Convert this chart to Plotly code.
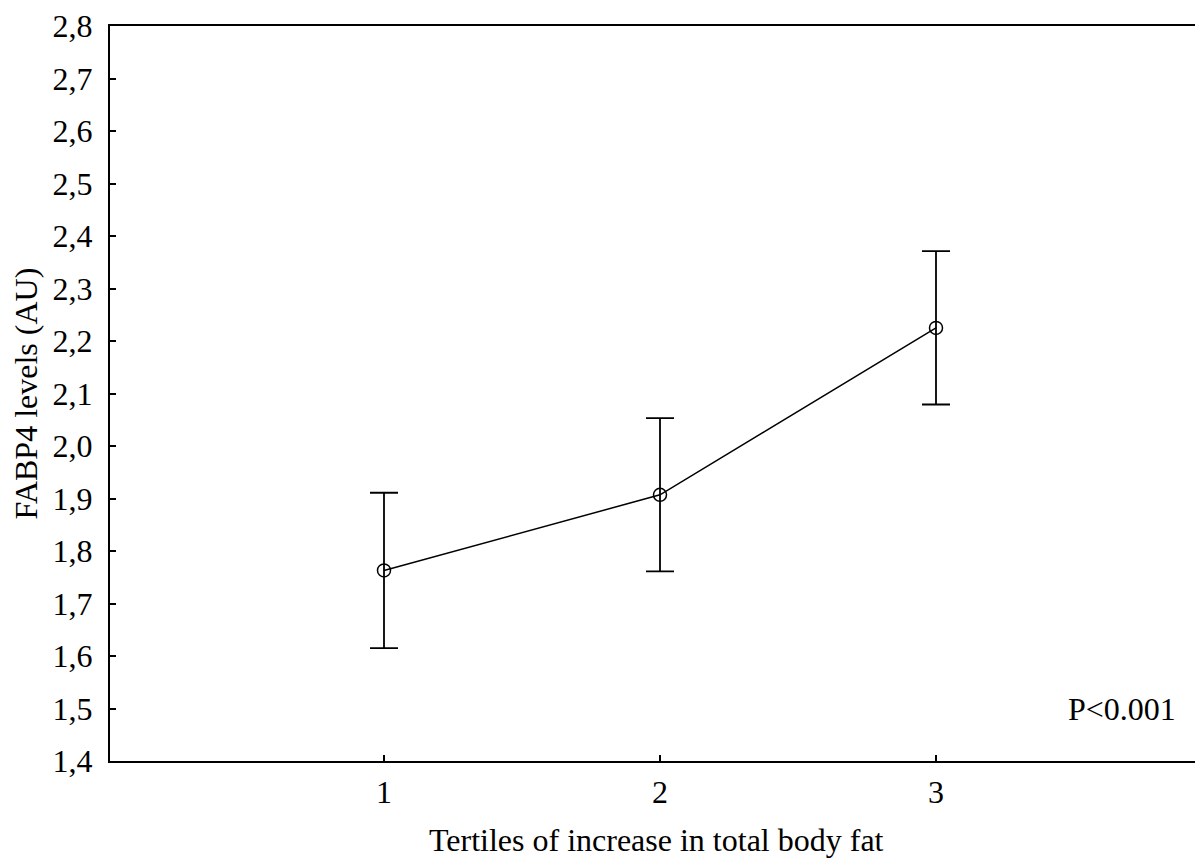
import plotly.graph_objects as go

tertiles = [1, 2, 3]
fabp4 = [1.763, 1.907, 2.225]
err = [0.148, 0.146, 0.146]
y_ticks = [1.4, 1.5, 1.6, 1.7, 1.8, 1.9, 2.0, 2.1, 2.2, 2.3, 2.4, 2.5, 2.6, 2.7, 2.8]
x_ticks = [1, 2, 3]

OFF = 8  # page body margin
W, H = 1203 - OFF, 867 - OFF
# plot area in page pixels
PL, PT, PB, PR = 110, 23, 761, 1203
L, T = PL - OFF, PT - OFF
B = H - (PB - OFF)
R = 0
plot_w = PR - PL
plot_h = PB - PT
FONT = "Liberation Serif, Times New Roman, serif"
FS = 32

fig = go.Figure()
fig.add_trace(go.Scatter(
    x=tertiles, y=fabp4, mode="lines+markers",
    line=dict(color="black", width=1.5),
    marker=dict(symbol="circle-open", size=13, color="black", line=dict(width=1.5)),
    error_y=dict(type="data", array=err, visible=True, color="black",
                 thickness=1.8, width=14),
    showlegend=False,
))

# x: 1 at px 384, 3 at px 936 -> 276 px per unit
ppu = 276.0
x0 = 1 - (384 - PL) / ppu
x1 = x0 + plot_w / ppu

fig.update_layout(
    width=W, height=H,
    margin=dict(l=L, r=R, t=T, b=B, pad=0),
    paper_bgcolor="white", plot_bgcolor="white",
    separators=",.",
    font=dict(family=FONT, size=FS, color="black"),
    xaxis=dict(range=[x0, x1], tickvals=x_ticks, ticktext=[str(v) for v in x_ticks],
               ticks="inside", ticklen=6, tickwidth=1.5, tickcolor="black",
               showline=True, linecolor="black", linewidth=2, mirror=True,
               showgrid=False, zeroline=False, ticklabelstandoff=2,
               ticklabeloverflow="allow",
               tickfont=dict(family=FONT, size=FS)),
    yaxis=dict(range=[1.4, 2.8], tickvals=y_ticks, tickformat=".1f",
               ticks="inside", ticklen=6, tickwidth=1.5, tickcolor="black",
               showline=True, linecolor="black", linewidth=2, mirror=False,
               showgrid=False, zeroline=False, ticklabelstandoff=9,
               ticklabeloverflow="allow",
               tickfont=dict(family=FONT, size=FS)),
    annotations=[
        dict(text="Tertiles of increase in total body fat", xref="paper", yref="paper",
             x=(656 - PL) / plot_w, y=-(840 - PB) / plot_h, xanchor="center", yanchor="middle",
             showarrow=False, font=dict(family=FONT, size=FS)),
        dict(text="FABP4 levels (AU)", xref="paper", yref="paper",
             x=-(PL - 25) / plot_w, y=(PB - 392) / plot_h, xanchor="center", yanchor="middle",
             textangle=-90, showarrow=False, font=dict(family=FONT, size=FS)),
        dict(text="P<0.001", xref="paper", yref="y",
             x=(1122 - PL) / plot_w, y=1.5, xanchor="center", yanchor="middle",
             showarrow=False, font=dict(family=FONT, size=FS)),
    ],
)

fig.write_html("out.html")
